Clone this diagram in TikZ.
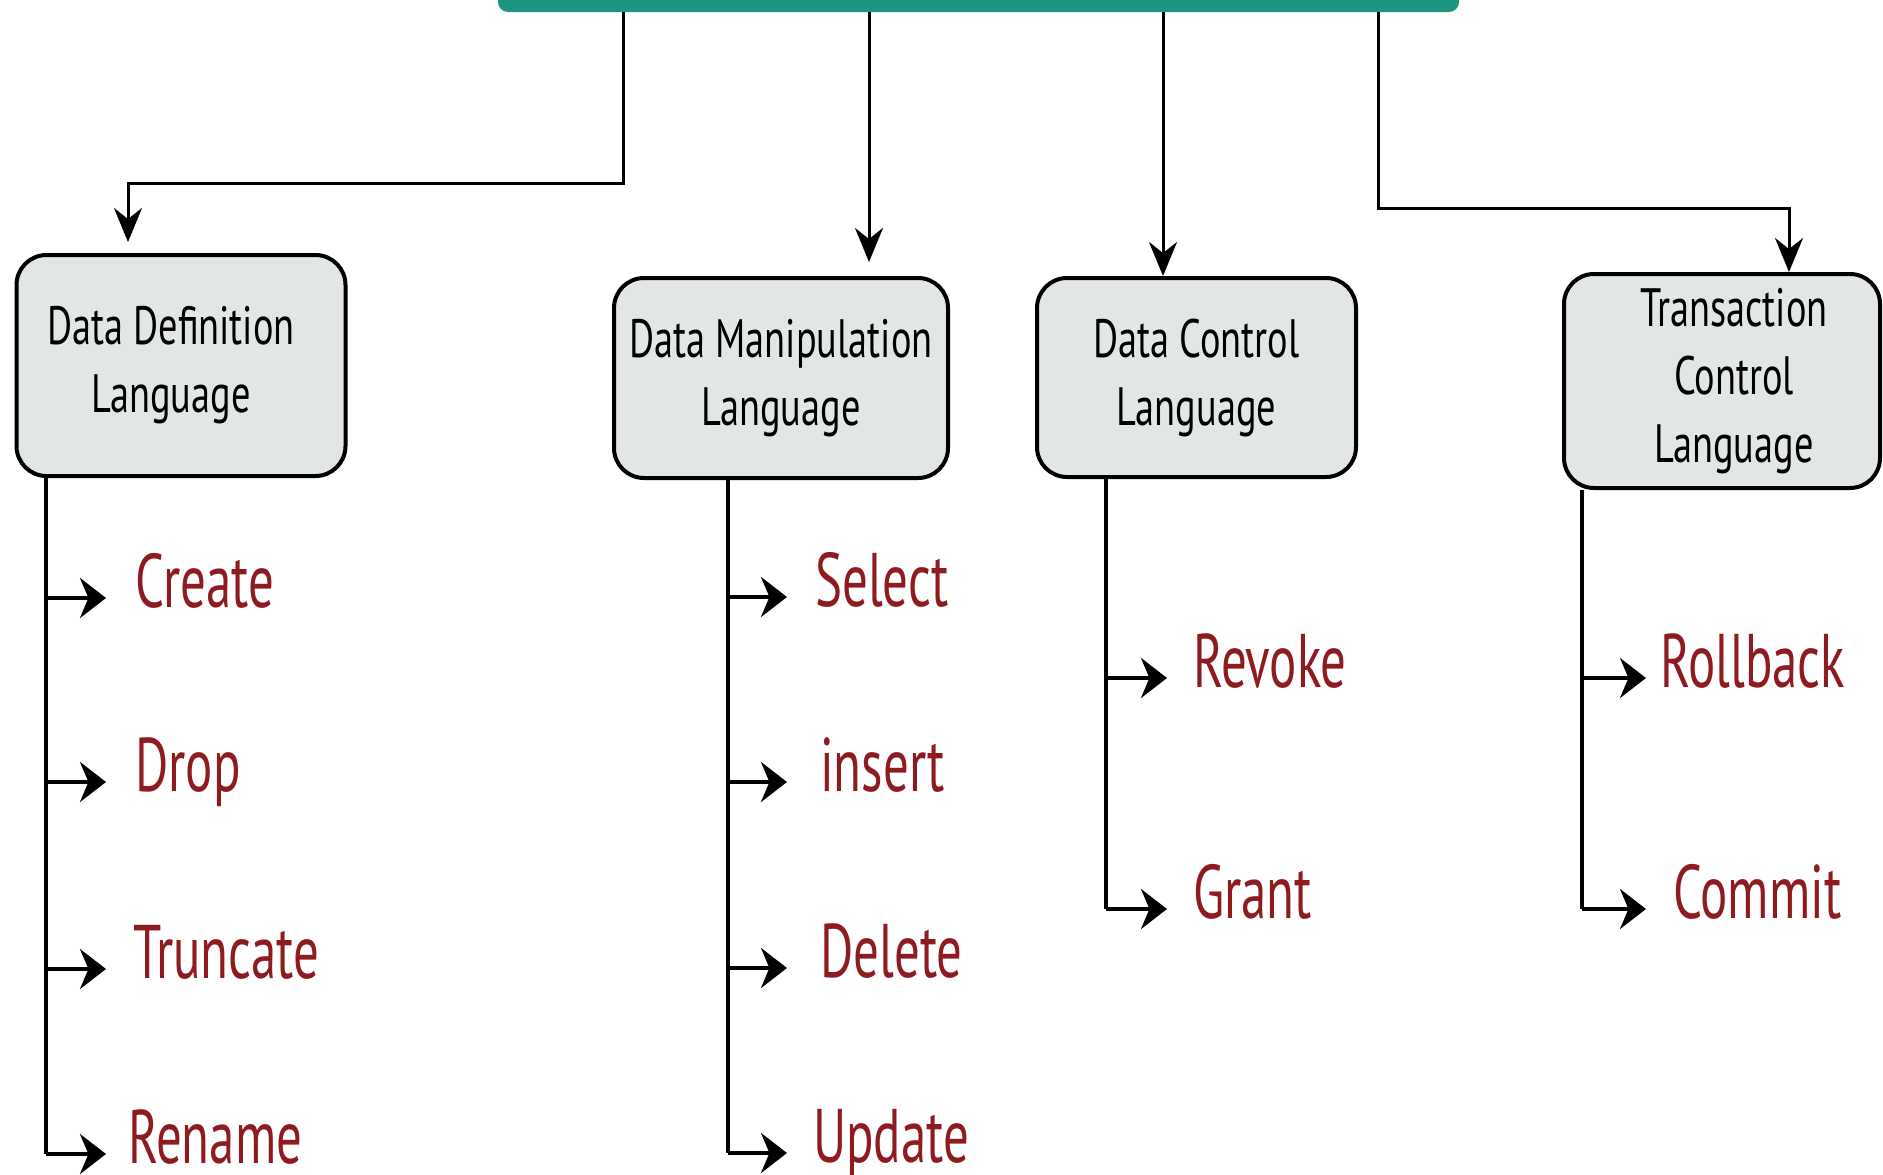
\documentclass[tikz,border=0pt]{standalone}
\usepackage{fontspec}
\setmainfont[FakeStretch=0.71]{PT Sans}
\newfontfamily\cmdfont[FakeStretch=0.67]{PT Sans}
\usetikzlibrary{arrows.meta,positioning}
\definecolor{barteal}{HTML}{1E9580}
\definecolor{boxgrey}{HTML}{E2E6E5}
\definecolor{cmdred}{HTML}{8E1B1F}
\tikzset{
  langbox/.style={draw,line width=4pt,rounded corners=30pt,fill=boxgrey,align=center,inner sep=0pt,font=\fontsize{54}{68}\selectfont},
  cmd/.style={anchor=west,inner sep=0pt,text=cmdred,font=\cmdfont\fontsize{76}{80}\selectfont,text height=31pt,text depth=13pt},
  link/.style={line width=3pt,-{Stealth[length=34pt,width=28pt]}},
  trunk/.style={line width=4pt},
  tick/.style={line width=4pt,-{Stealth[length=26pt,width=40pt]}},
}
\begin{document}
\begin{tikzpicture}[x=1pt,y=-1pt]
\useasboundingbox (0,0) rectangle (1883,1175);

% Top bar (cut off by the page)
\node[fill=barteal,rounded corners=10pt,minimum width=961pt,minimum height=80pt,inner sep=0pt] (sql) at (978.5,-28) {};

% Language boxes
\node[langbox,minimum width=329pt,minimum height=221pt] (ddl) at (181,365.5) {Data Definition\hspace*{20pt}\\Language\hspace*{20pt}};
\node[langbox,minimum width=334pt,minimum height=200pt] (dml) at (781,378) {Data Manipulation\\Language};
\node[langbox,minimum width=319pt,minimum height=199pt] (dcl) at (1196.5,377.5) {Data Control\\Language};
\node[langbox,minimum width=316pt,minimum height=214pt] (tcl) at (1722,381) {\hspace*{24pt}Transaction\\\hspace*{24pt}Control\\\hspace*{24pt}Language};

% Links from the bar
\coordinate (ddlbend) at (623,183);
\coordinate (ddlin) at (128,242);
\coordinate (dmlin) at (869,262);
\coordinate (dclin) at (1163,276);
\coordinate (tclbend) at (1378,208);
\coordinate (tclin) at (1789,272);
\draw[link] (sql.south -| ddlbend) -- (ddlbend) -| (ddlin);
\draw[link] (sql.south -| dmlin) -- (dmlin);
\draw[link] (sql.south -| dclin) -- (dcl.north -| dclin);
\draw[link] (sql.south -| tclbend) -- (tclbend) -| (tcl.north -| tclin);

% DDL commands
\coordinate (ddltop) at (46,478);
\coordinate (ddltip) at (106,0);
\foreach \cmd/\y/\tx in {Create/598/135, Drop/782/135, Truncate/969/133, Rename/1154/128} {
  \node[cmd] (\cmd) at (\tx,\y) {\cmd};
  \draw[tick] (\cmd.west -| ddltop) -- (\cmd.west -| ddltip);
}
\draw[trunk] (ddltop) -- (Rename.west -| ddltop);

% DML commands
\coordinate (dmltop) at (728,480);
\coordinate (dmltip) at (787,0);
\foreach \cmd/\y/\tx in {Select/597/815, insert/782/820, Delete/968/820, Update/1153/813} {
  \node[cmd] (\cmd) at (\tx,\y) {\cmd};
  \draw[tick] (\cmd.west -| dmltop) -- (\cmd.west -| dmltip);
}
\draw[trunk] (dmltop) -- (Update.west -| dmltop);

% DCL commands
\coordinate (dcltop) at (1106,479);
\coordinate (dcltip) at (1167,0);
\foreach \cmd/\y/\tx in {Revoke/678/1193, Grant/909/1193} {
  \node[cmd] (\cmd) at (\tx,\y) {\cmd};
  \draw[tick] (\cmd.west -| dcltop) -- (\cmd.west -| dcltip);
}
\draw[trunk] (dcltop) -- (Grant.west -| dcltop);

% TCL commands
\coordinate (tcltop) at (1582,490);
\coordinate (tcltip) at (1646,0);
\foreach \cmd/\y/\tx in {Rollback/678/1660, Commit/909/1673} {
  \node[cmd] (\cmd) at (\tx,\y) {\cmd};
  \draw[tick] (\cmd.west -| tcltop) -- (\cmd.west -| tcltip);
}
\draw[trunk] (tcltop) -- (Commit.west -| tcltop);
\end{tikzpicture}
\end{document}
